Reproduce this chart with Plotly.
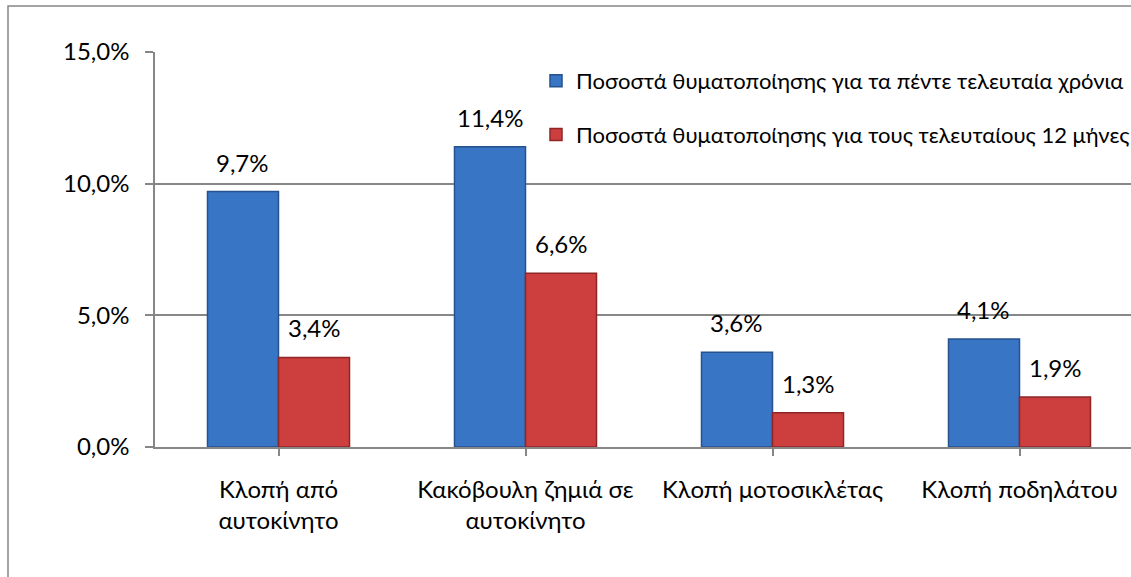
import plotly.graph_objects as go

categories = ["Κλοπή από<br>αυτοκίνητο", "Κακόβουλη ζημιά σε<br>αυτοκίνητο",
              "Κλοπή μοτοσικλέτας", "Κλοπή ποδηλάτου"]
five_years = [9.7, 11.4, 3.6, 4.1]
last_12_months = [3.4, 6.6, 1.3, 1.9]
series_names = ["Ποσοστά θυματοποίησης για τα πέντε τελευταία χρόνια",
                "Ποσοστά θυματοποίησης για τους τελευταίους 12 μήνες"]

FONT = "Lato, 'Open Sans', sans-serif"
GRID = "#878787"
BLUE = "#3875C5"
BLUE_EDGE = "#27528F"
RED = "#CD3E3E"
RED_EDGE = "#8E2626"

W, H = 1131, 577
ML, MT = 155, 52
MB = H - 447
plot_w = W - ML
plot_h = H - MT - MB

fig = go.Figure()
fig.add_trace(go.Bar(
    x=list(range(len(categories))), y=five_years, name=series_names[0],
    marker=dict(color=BLUE, line=dict(color=BLUE_EDGE, width=1.5)),
    legendgroup="a",
))
fig.add_trace(go.Bar(
    x=list(range(len(categories))), y=last_12_months, name=series_names[1],
    marker=dict(color=RED, line=dict(color=RED_EDGE, width=1.5)),
    legendgroup="b",
))

bargap = 0.425
half = (1 - bargap) / 4
annotations = []
for vals, off in ((five_years, -half), (last_12_months, half)):
    for i, v in enumerate(vals):
        annotations.append(dict(
            x=i + off, y=v, xref="x", yref="y",
            text=f"{v:.1f}%".replace(".", ","),
            showarrow=False, yanchor="bottom", yshift=13,
            font=dict(family=FONT, size=24, color="#000"),
        ))

# outer chart border (partially cropped in the source)
fig.add_shape(type="rect", xref="paper", yref="paper",
              x0=(8 - ML) / plot_w, x1=1.5,
              y0=-1, y1=1 + (MT - 6) / plot_h,
              line=dict(color=GRID, width=1.5), layer="below")

fig.update_layout(
    width=W, height=H,
    margin=dict(l=ML, r=0, t=MT, b=MB, autoexpand=False),
    paper_bgcolor="white", plot_bgcolor="white",
    font=dict(family=FONT, size=24, color="#000"),
    separators=",.",
    barmode="group", bargap=bargap, bargroupgap=0,
    showlegend=True,
    legend=dict(x=(536 - ML) / plot_w, y=1 - (60 - MT) / plot_h,
                xanchor="left", yanchor="top",
                bgcolor="rgba(0,0,0,0)", traceorder="grouped",
                tracegroupgap=22, itemwidth=30,
                font=dict(family=FONT, size=22)),
    annotations=annotations,
)
fig.update_xaxes(
    tickmode="array", tickvals=list(range(len(categories))), ticktext=categories,
    range=[-0.5, -0.5 + plot_w / 247],
    showline=True, linecolor=GRID, linewidth=1.5,
    ticks="outside", ticklen=7, tickcolor=GRID, tickwidth=1.5,
    showgrid=False, zeroline=False, ticklabelstandoff=13,
)
fig.update_yaxes(
    range=[0, 15], dtick=5, tickformat=".1f", ticksuffix="%",
    showgrid=True, gridcolor=GRID, gridwidth=1.5,
    showline=True, linecolor=GRID, linewidth=1.5,
    ticks="outside", ticklen=8, tickcolor=GRID, tickwidth=1.5,
    zeroline=False, ticklabelstandoff=11,
)

# drop the default body margin so the figure sits at the page corner
fig.write_html("out.html", config={"displayModeBar": False},
               post_script="document.body.style.margin='0';")
